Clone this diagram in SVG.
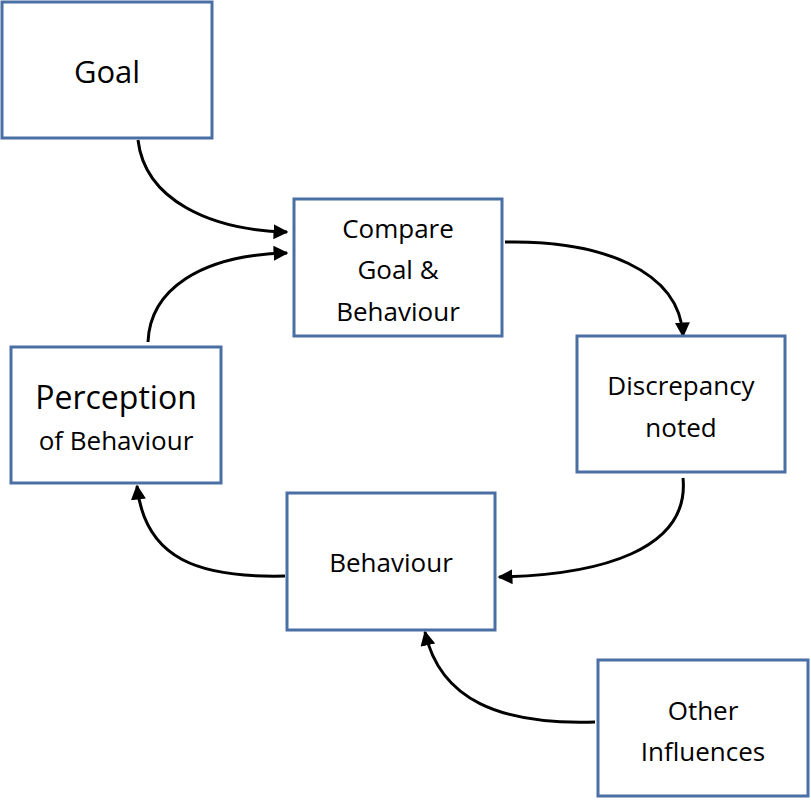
<svg xmlns="http://www.w3.org/2000/svg" width="811" height="800" viewBox="0 0 811 800">
<defs>
<marker id="ah" viewBox="0 0 10 10" refX="9" refY="5" markerWidth="5" markerHeight="5" orient="auto"><path d="M0,0 L10,5 L0,10 z" fill="#000"/></marker>
<style>
.box{fill:#fff;stroke:#4a6fa5;stroke-width:3}
.t{font-family:"Open Sans","Liberation Sans",sans-serif;font-size:26px;text-anchor:middle;fill:#000}
.c{fill:none;stroke:#000;stroke-width:3;marker-end:url(#ah)}
</style>
</defs>
<rect width="811" height="800" fill="#fff"/>
<g id="connectors">
<path class="c" d="M138,140 C145,200 210,230 287,232"/>
<path class="c" d="M505,242 C600,240 680,270 683,336"/>
<path class="c" d="M683,478 C690,550 600,575 499,577"/>
<path class="c" d="M285,576 C200,578 145,560 137,486"/>
<path class="c" d="M148,342 C150,290 200,255 287,253"/>
<path class="c" d="M595,722 C500,725 440,700 425,632"/>
</g>
<g id="goal"><rect class="box" x="2" y="2" width="210" height="136"/><text class="t" x="107" y="83" style="font-size:31px">Goal</text></g>
<g id="compare"><rect class="box" x="294" y="199" width="208" height="137"/><text class="t" x="398" y="238">Compare</text><text class="t" x="398" y="279">Goal &amp;</text><text class="t" x="398" y="321">Behaviour</text></g>
<g id="discrepancy"><rect class="box" x="577" y="336" width="208" height="136"/><text class="t" x="681" y="395">Discrepancy</text><text class="t" x="681" y="437">noted</text></g>
<g id="perception"><rect class="box" x="11" y="347" width="210" height="136"/><text class="t" x="116" y="409" style="font-size:32px">Perception</text><text class="t" x="116" y="450">of Behaviour</text></g>
<g id="behaviour"><rect class="box" x="287" y="493" width="208" height="137"/><text class="t" x="391" y="572">Behaviour</text></g>
<g id="other"><rect class="box" x="598" y="660" width="210" height="136"/><text class="t" x="703" y="720">Other</text><text class="t" x="703" y="761">Influences</text></g>
</svg>
